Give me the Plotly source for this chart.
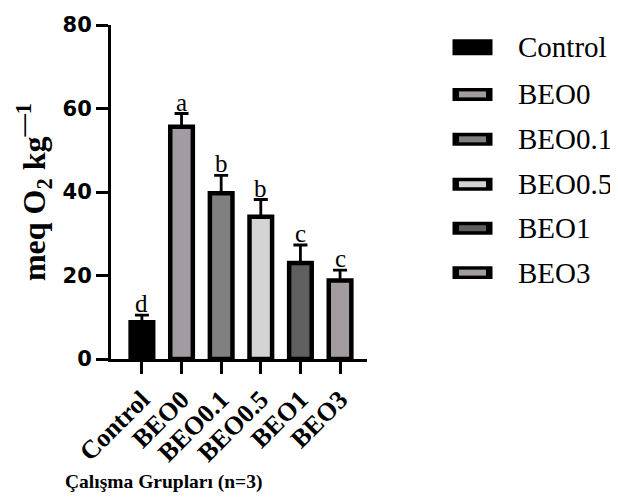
import plotly.graph_objects as go

categories = ["Control", "BEO0", "BEO0.1", "BEO0.5", "BEO1", "BEO3"]
values = [8.8, 55.6, 39.7, 34.1, 23.0, 18.8]
errors = [1.7, 3.2, 4.3, 4.1, 4.3, 2.5]
letters = ["d", "a", "b", "b", "c", "c"]
colors = ["#000000", "#A29CA2", "#808080", "#D4D4D4", "#5F5F5F", "#A29CA2"]

# page body has an 8px margin, so the figure is shifted to compensate
OFF = 8
W, H = 618 - OFF, 498 - OFF
PX0, PX1, PY0, PY1 = 111, 367, 24.5, 359   # plot area in page pixels
pw, ph = PX1 - PX0, PY1 - PY0
L, T = PX0 - OFF, PY0 - OFF
R, B = W - L - pw, H - T - ph


def px(x):
    return (x - PX0) / pw


def py(y):
    return (PY1 - y) / ph


fig = go.Figure()
fig.add_trace(go.Bar(
    x=categories, y=values,
    width=0.57,
    marker=dict(color=colors, line=dict(color="black", width=4.5)),
    error_y=dict(type="data", array=errors, arrayminus=[0] * len(values), symmetric=False,
                 color="black", thickness=2.8, width=7),
    showlegend=False,
))

serif = "Liberation Serif"
annotations = []
for c, v, e, t in zip(categories, values, errors, letters):
    annotations.append(dict(x=c, y=v + e, xref="x", yref="y", text=t, showarrow=False,
                            yanchor="bottom", yshift=-4,
                            font=dict(family=serif, size=25, color="black")))

# x-axis title
annotations.append(dict(x=px(163), y=py(482), xref="paper", yref="paper",
                        text="Çalışma Grupları (n=3)", showarrow=False,
                        xanchor="center", yanchor="middle",
                        font=dict(family=serif, size=19.5, color="black", weight="bold")))

# legend drawn by hand (wide swatches)
shapes = []
centers = [46.7, 94, 139, 184, 228, 272.5]
for c, col, cy in zip(categories, colors, centers):
    hh = 8 if col == "#000000" else 6.5
    shapes.append(dict(type="rect", xref="paper", yref="paper",
                       x0=px(452.5), x1=px(492.5), y0=py(cy + hh), y1=py(cy - hh),
                       fillcolor="black", line=dict(width=0)))
    if col != "#000000":
        shapes.append(dict(type="rect", xref="paper", yref="paper",
                           x0=px(459), x1=px(486), y0=py(cy + 3), y1=py(cy - 3),
                           fillcolor=col, line=dict(width=0)))
    annotations.append(dict(x=px(516), y=py(cy), xref="paper", yref="paper", text=c,
                            showarrow=False, xanchor="left", yanchor="middle",
                            font=dict(family=serif, size=29, color="black")))

fig.update_layout(
    width=W, height=H,
    margin=dict(l=L, r=R, t=T, b=B, pad=0),
    paper_bgcolor="white", plot_bgcolor="white",
    xaxis=dict(range=[-0.78, 5.68], showline=True, linewidth=3, linecolor="black",
               ticks="outside", ticklen=12, tickwidth=3, tickcolor="black",
               tickangle=-45, showgrid=False, zeroline=False, automargin=False,
               tickfont=dict(family=serif, size=26, color="black", weight="bold")),
    yaxis=dict(range=[0, 80], tickvals=[0, 20, 40, 60, 80], showline=True, linewidth=3,
               linecolor="black", ticks="outside", ticklen=12, tickwidth=3, tickcolor="black",
               showgrid=False, zeroline=False, automargin=False,
               tickfont=dict(family="DejaVu Sans", size=21, color="black", weight="bold"),
               title=dict(text="meq O<sub>2</sub> kg<sup>—1</sup>", standoff=8,
                          font=dict(family=serif, size=32, color="black", weight="bold"))),
    annotations=annotations,
    shapes=shapes,
)

fig.write_html("out.html")
